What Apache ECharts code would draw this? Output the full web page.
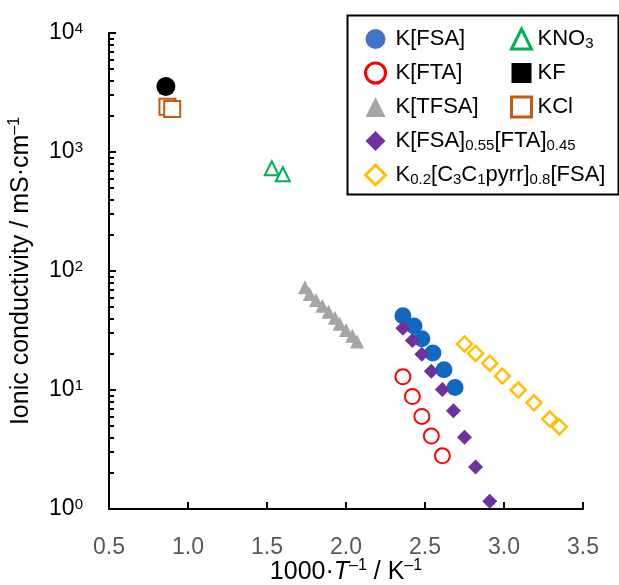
<!DOCTYPE html>
<html>
<head>
<meta charset="utf-8">
<script src="https://cdn.jsdelivr.net/npm/echarts@6.0.0/dist/echarts.min.js"></script>
<style>
  html, body { margin: 0; padding: 0; background: #fff; }
  #main { width: 619px; height: 585px; }
</style>
</head>
<body>
<div id="main"></div>
<script>
// values (x = 1000/T, y = conductivity in mS/cm)
var fsaX = [2.36, 2.43, 2.48, 2.55, 2.62, 2.69];
var fsaY = [42, 34.5, 27, 20.5, 14.8, 10.5];
var ftaX = [2.36, 2.42, 2.48, 2.54, 2.61];
var ftaY = [12.9, 8.8, 6.0, 4.1, 2.8];
var tfsaX = [1.74, 1.77, 1.81, 1.85, 1.89, 1.93, 1.96, 2.00, 2.04, 2.07];
var tfsaY = [73, 64, 57, 51, 45.5, 40.5, 36, 32, 28.5, 25.5];
var mixX = [2.36, 2.42, 2.48, 2.54, 2.61, 2.68, 2.75, 2.82, 2.91];
var mixY = [33, 26, 20, 14.4, 10.1, 6.7, 4.0, 2.25, 1.16];
var pyrX = [2.75, 2.82, 2.91, 2.99, 3.09, 3.19, 3.29, 3.35];
var pyrY = [24.4, 20.3, 16.8, 13.1, 10.0, 7.8, 5.7, 4.9];
var kno3X = [1.53, 1.60];
var kno3Y = [730, 650];
var kfX = [0.86];
var kfY = [3550];
var kclX = [0.87, 0.90];
var kclY = [2400, 2300];

var legendRich = {
    'K[FSA]': 'K[FSA]',
    'K[FTA]': 'K[FTA]',
    'K[TFSA]': 'K[TFSA]',
    'K[FSA]0.55[FTA]0.45': 'K[FSA]{s|0.55}[FTA]{s|0.45}',
    'K0.2[C3C1pyrr]0.8[FSA]': 'K{s|0.2}[C{s|3}C{s|1}pyrr]{s|0.8}[FSA]',
    'KNO3': 'KNO{s|3}',
    'KF': 'KF',
    'KCl': 'KCl'
};

function pairs(xs, ys) {
    return xs.map(function (x, i) { return [x, ys[i]]; });
}

var font = "'Liberation Sans', Arial, sans-serif";

var myChart = echarts.init(document.getElementById('main'));
var option = null;

var legendText = {
    fontSize: 22,
    lineHeight: 24,
    color: '#000',
    fontFamily: font,
    rich: {
        s: { fontSize: 15, lineHeight: 15, verticalAlign: 'bottom', fontFamily: font, color: '#000' }
    }
};

option = {
    animation: false,
    backgroundColor: '#fff',
    grid: { left: 109, right: 36, top: 33, bottom: 76, outerBoundsMode: 'none', containLabel: false },
    xAxis: {
        type: 'value',
        min: 0.5,
        max: 3.5,
        interval: 0.5,
        axisLine: { show: true, lineStyle: { color: '#000', width: 2 } },
        axisTick: { show: true, inside: true, length: 7, lineStyle: { color: '#000', width: 2 } },
        splitLine: { show: false },
        axisLabel: {
            margin: 27,
            fontSize: 23,
            color: '#595959',
            fontFamily: font,
            formatter: function (v) { return v.toFixed(1); }
        },
        name: '1000·{i|T}{p|–1} / K{p|–1}',
        nameLocation: 'middle',
        nameGap: 49,
        nameMoveOverlap: false,
        nameTextStyle: {
            fontSize: 25,
            lineHeight: 28,
            color: '#000',
            fontFamily: font,
            rich: {
                i: { fontSize: 25, lineHeight: 28, fontStyle: 'italic', fontFamily: font, color: '#000' },
                p: { fontSize: 16, lineHeight: 16, verticalAlign: 'top', fontFamily: font, color: '#000' }
            }
        }
    },
    yAxis: {
        type: 'log',
        logBase: 10,
        min: 1,
        max: 10000,
        axisLine: { show: true, lineStyle: { color: '#000', width: 2 } },
        axisTick: { show: true, inside: true, length: 7, lineStyle: { color: '#000', width: 2 } },
        // 9 linear steps per decade -> ticks at 2..9 x 10^n
        minorTick: { show: true, splitNumber: 9, length: 5, lineStyle: { color: '#000', width: 2 } },
        splitLine: { show: false },
        minorSplitLine: { show: false },
        axisLabel: {
            margin: 26,
            fontFamily: font,
            formatter: function (v) {
                return '{b|10}{p|' + Math.round(Math.log10(v)) + '}';
            },
            rich: {
                b: { fontSize: 23, lineHeight: 24, color: '#000', fontFamily: font },
                p: { fontSize: 15, lineHeight: 15, verticalAlign: 'top', color: '#000', fontFamily: font }
            }
        },
        name: 'Ionic conductivity / mS·cm{p|–1}',
        nameLocation: 'middle',
        nameGap: 74,
        nameMoveOverlap: false,
        nameTextStyle: {
            fontSize: 25,
            lineHeight: 28,
            color: '#000',
            fontFamily: font,
            rich: {
                p: { fontSize: 16, lineHeight: 16, verticalAlign: 'top', fontFamily: font, color: '#000' }
            }
        }
    },
    legend: [{
        orient: 'vertical',
        left: 359,
        top: 22,
        itemWidth: 20,
        itemHeight: 20,
        itemGap: 10,
        selectedMode: false,
        textStyle: Object.assign({ padding: [0, 0, 0, 5] }, legendText),
        formatter: function (n) { return legendRich[n]; },
        data: [
            { name: 'K[FSA]', icon: 'circle', itemStyle: { color: '#4472C4' } },
            { name: 'K[FTA]', icon: 'circle', itemStyle: { color: '#fff', borderColor: '#FF0000', borderWidth: 3 } },
            { name: 'K[TFSA]', icon: 'triangle', itemStyle: { color: '#A5A5A5' } },
            { name: 'K[FSA]0.55[FTA]0.45', icon: 'diamond', itemStyle: { color: '#7030A0' } },
            { name: 'K0.2[C3C1pyrr]0.8[FSA]', icon: 'diamond', itemStyle: { color: '#fff', borderColor: '#FFC000', borderWidth: 3 } }
        ]
    }, {
        orient: 'vertical',
        left: 505,
        top: 22,
        itemWidth: 20,
        itemHeight: 20,
        itemGap: 10,
        selectedMode: false,
        textStyle: Object.assign({ padding: [0, 0, 0, 1] }, legendText),
        formatter: function (n) { return legendRich[n]; },
        data: [
            { name: 'KNO3', icon: 'triangle', itemStyle: { color: '#fff', borderColor: '#00B050', borderWidth: 3 } },
            { name: 'KF', icon: 'rect', itemStyle: { color: '#000' } },
            { name: 'KCl', icon: 'rect', itemStyle: { color: '#fff', borderColor: '#C55A11', borderWidth: 3 } }
        ]
    }],
    graphic: [{
        type: 'rect',
        left: 345,
        top: 13,
        shape: { width: 271, height: 179 },
        style: { fill: 'none', stroke: '#000', lineWidth: 2 },
        z: 10
    }],
    series: [{
        name: 'K[FSA]',
        type: 'scatter',
        symbol: 'circle',
        symbolSize: 17,
        itemStyle: { color: '#1168C0', opacity: 1 },
        data: pairs(fsaX, fsaY)
    }, {
        name: 'K[FTA]',
        type: 'scatter',
        symbol: 'circle',
        symbolSize: 15,
        itemStyle: { color: '#fff', borderColor: '#FF0000', borderWidth: 2, opacity: 1 },
        data: pairs(ftaX, ftaY)
    }, {
        name: 'K[TFSA]',
        type: 'scatter',
        symbol: 'triangle',
        symbolSize: 14,
        itemStyle: { color: '#A5A5A5', opacity: 1 },
        data: pairs(tfsaX, tfsaY)
    }, {
        name: 'K[FSA]0.55[FTA]0.45',
        type: 'scatter',
        symbol: 'diamond',
        symbolSize: 15,
        itemStyle: { color: '#7030A0', opacity: 1 },
        data: pairs(mixX, mixY)
    }, {
        name: 'K0.2[C3C1pyrr]0.8[FSA]',
        type: 'scatter',
        symbol: 'diamond',
        symbolSize: 15,
        itemStyle: { color: '#fff', borderColor: '#FFC000', borderWidth: 2.5, opacity: 1 },
        data: pairs(pyrX, pyrY)
    }, {
        name: 'KNO3',
        type: 'scatter',
        symbol: 'triangle',
        symbolSize: 14,
        itemStyle: { color: '#fff', borderColor: '#00B050', borderWidth: 2, opacity: 1 },
        data: pairs(kno3X, kno3Y)
    }, {
        name: 'KF',
        type: 'scatter',
        symbol: 'circle',
        symbolSize: 19,
        itemStyle: { color: '#000', opacity: 1 },
        data: pairs(kfX, kfY)
    }, {
        name: 'KCl',
        type: 'scatter',
        symbol: 'rect',
        symbolSize: 16,
        itemStyle: { color: '#fff', borderColor: '#C55A11', borderWidth: 2, opacity: 1 },
        data: pairs(kclX, kclY)
    }]
};

if (option && typeof option === 'object') {
    myChart.setOption(option, true);
}
</script>
</body>
</html>
